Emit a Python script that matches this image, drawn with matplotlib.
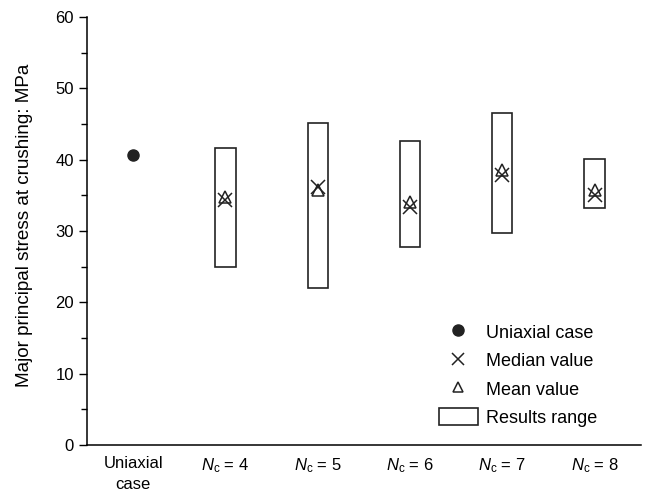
import matplotlib.pyplot as plt
from matplotlib.lines import Line2D
from matplotlib.patches import Rectangle
import numpy as np

plt.rcParams['font.family'] = ['Liberation Sans', 'DejaVu Sans']
plt.rcParams['mathtext.fontset'] = 'custom'
plt.rcParams['mathtext.rm'] = 'Liberation Sans'
plt.rcParams['mathtext.it'] = 'Liberation Sans:italic'

# crushing stress results, MPa
categories = ['Uniaxial\ncase', r'$N_\mathrm{c}$ = 4', r'$N_\mathrm{c}$ = 5',
              r'$N_\mathrm{c}$ = 6', r'$N_\mathrm{c}$ = 7', r'$N_\mathrm{c}$ = 8']
uniaxial = 40.7
nc_low = [24.9, 22.0, 27.7, 29.7, 33.2]
nc_high = [41.6, 45.1, 42.6, 46.6, 40.1]
nc_median = [34.4, 36.1, 33.4, 37.9, 35.1]
nc_mean = [34.7, 35.7, 34.0, 38.5, 35.8]

fig = plt.figure(figsize=(6.46, 4.97), dpi=100)
ax = fig.add_axes([0.1347, 0.1046, 0.857, 0.8614])

x = np.arange(len(categories))
xn = x[1:]
low = np.array(nc_low)
high = np.array(nc_high)

ax.bar(xn, high - low, bottom=low, width=0.22, fill=False,
       edgecolor='#222222', linewidth=1.2)
ax.plot([x[0]], [uniaxial], 'o', color='#222222', markersize=8)
ax.plot(xn, nc_median, 'x', color='#222222', markersize=10, markeredgewidth=1.1)
ax.plot(xn, nc_mean, '^', markerfacecolor='none', markeredgecolor='#222222',
        markersize=8, markeredgewidth=1.1)

ax.set_xlim(-0.5, 5.5)
ax.set_ylim(0, 60)
ax.set_yticks(np.arange(0, 61, 10))
ax.set_yticks(np.arange(5, 60, 10), minor=True)
ax.set_xticks(x)
ax.set_xticklabels(categories, fontsize=12, linespacing=1.5)
ax.tick_params(axis='x', length=0, pad=8)
ax.tick_params(axis='y', which='major', length=6, labelsize=12, width=1)
ax.tick_params(axis='y', which='minor', length=4, width=1)
ax.spines['top'].set_visible(False)
ax.spines['right'].set_visible(False)
ax.spines['left'].set_linewidth(1.1)
ax.spines['bottom'].set_linewidth(1.1)
ax.set_ylabel('Major principal stress at crushing: MPa', fontsize=13.6)
ax.yaxis.set_label_coords(-0.098, 0.514)

handles = [
    Line2D([], [], marker='o', color='#222222', linestyle='none', markersize=8),
    Line2D([], [], marker='x', color='#222222', linestyle='none', markersize=9,
           markeredgewidth=1.1),
    Line2D([], [], marker='^', markerfacecolor='none', markeredgecolor='#222222',
           linestyle='none', markersize=7, markeredgewidth=1.1),
    Rectangle((0, 0), 1, 1, fill=False, edgecolor='#222222', linewidth=1.2),
]
labels = ['Uniaxial case', 'Median value', 'Mean value', 'Results range']
ax.legend(handles, labels, loc='upper left', bbox_to_anchor=(0.635, 0.285),
          frameon=False, fontsize=13, handlelength=2.2, handleheight=1.1,
          labelspacing=0.53, handletextpad=0.4, borderpad=0, borderaxespad=0)

fig.savefig('out.png', dpi=100)
